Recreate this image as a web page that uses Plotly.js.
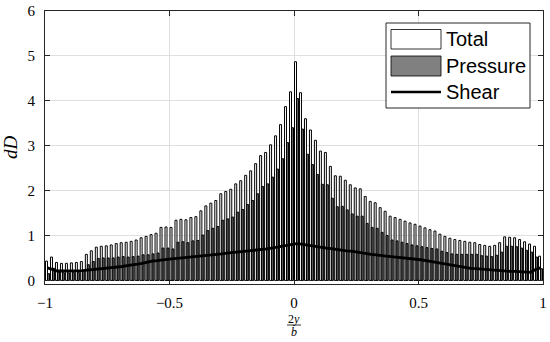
<!DOCTYPE html>
<html>
<head>
<meta charset="utf-8">
<script src="https://cdn.plot.ly/plotly-3.0.1.min.js"></script>
<style>html,body{margin:0;padding:0;background:#fff;}#chart{width:550px;height:342px;}</style>
</head>
<body>
<div id="chart"></div>
<script>
// spanwise station (2y/b)
const spanPos = [-0.99,-0.97,-0.95,-0.93,-0.91,-0.89,-0.87,-0.85,-0.83,-0.81,
-0.79,-0.77,-0.75,-0.73,-0.71,-0.69,-0.67,-0.65,-0.63,-0.61,
-0.59,-0.57,-0.55,-0.53,-0.51,-0.49,-0.47,-0.45,-0.43,-0.41,
-0.39,-0.37,-0.35,-0.33,-0.31,-0.29,-0.27,-0.25,-0.23,-0.21,
-0.19,-0.17,-0.15,-0.13,-0.11,-0.09,-0.07,-0.05,-0.03,-0.01,
0.01,0.03,0.05,0.07,0.09,0.11,0.13,0.15,0.17,0.19,
0.21,0.23,0.25,0.27,0.29,0.31,0.33,0.35,0.37,0.39,
0.41,0.43,0.45,0.47,0.49,0.51,0.53,0.55,0.57,0.59,
0.61,0.63,0.65,0.67,0.69,0.71,0.73,0.75,0.77,0.79,
0.81,0.83,0.85,0.87,0.89,0.91,0.93,0.95,0.97,0.99];

const totalDrag = [0.43,0.52,0.40,0.38,0.38,0.39,0.40,0.42,0.58,0.66,
0.74,0.76,0.77,0.79,0.82,0.84,0.85,0.87,0.90,0.95,
0.98,1.02,1.05,1.18,1.19,1.18,1.34,1.36,1.35,1.40,
1.42,1.55,1.66,1.72,1.78,1.93,1.98,2.03,2.15,2.22,
2.34,2.44,2.60,2.78,2.85,3.02,3.22,3.47,3.87,4.20,
4.87,4.18,3.60,3.35,3.12,2.88,2.85,2.54,2.33,2.32,
2.23,2.13,2.06,2.04,1.87,1.76,1.73,1.62,1.54,1.43,
1.40,1.36,1.32,1.28,1.25,1.21,1.17,1.13,1.10,1.03,
0.98,0.94,0.91,0.89,0.87,0.85,0.84,0.80,0.78,0.76,
0.78,0.84,0.97,0.96,0.95,0.91,0.86,0.81,0.76,0.54];

const pressureDrag = [0.15,0.27,0.19,0.17,0.17,0.18,0.18,0.20,0.35,0.42,
0.49,0.50,0.50,0.50,0.52,0.53,0.52,0.53,0.54,0.57,
0.57,0.59,0.61,0.72,0.72,0.70,0.85,0.86,0.84,0.88,
0.89,1.01,1.11,1.16,1.20,1.34,1.37,1.41,1.52,1.58,
1.69,1.78,1.93,2.09,2.15,2.30,2.48,2.71,3.07,3.40,
4.05,3.37,2.81,2.58,2.36,2.14,2.13,1.83,1.64,1.65,
1.57,1.48,1.43,1.43,1.27,1.18,1.16,1.07,1.00,0.90,
0.88,0.85,0.82,0.79,0.77,0.75,0.73,0.71,0.70,0.65,
0.62,0.59,0.58,0.58,0.58,0.58,0.58,0.55,0.54,0.53,
0.56,0.63,0.76,0.76,0.75,0.72,0.67,0.63,0.52,0.26];

const shearDrag = [0.28,0.25,0.21,0.21,0.21,0.21,0.22,0.22,0.23,0.24,
0.25,0.26,0.27,0.29,0.30,0.31,0.33,0.34,0.36,0.38,
0.41,0.43,0.44,0.46,0.47,0.48,0.49,0.50,0.51,0.52,
0.53,0.54,0.55,0.56,0.58,0.59,0.61,0.62,0.63,0.64,
0.65,0.66,0.67,0.69,0.70,0.72,0.74,0.76,0.78,0.80,
0.82,0.81,0.79,0.77,0.76,0.74,0.72,0.71,0.69,0.67,
0.66,0.65,0.63,0.61,0.60,0.58,0.57,0.55,0.54,0.53,
0.52,0.51,0.50,0.49,0.48,0.46,0.44,0.42,0.40,0.38,
0.36,0.35,0.33,0.31,0.29,0.27,0.26,0.25,0.24,0.23,
0.22,0.21,0.21,0.20,0.20,0.19,0.19,0.18,0.24,0.28];

const xTicks = [-1,-0.5,0,0.5,1];
const xTickText = ['\u22121','\u22120.5','0','0.5','1'];
const yTicks = [0,1,2,3,4,5,6];

const axisCol = '#262626';
const gridCol = '#dfdfdf';
const serif = '"Liberation Serif", "DejaVu Serif", serif';
const sans = '"Liberation Sans", Arial, sans-serif';

const traces = [
  {type:'bar', name:'Total', x:spanPos, y:totalDrag,
   marker:{color:'#ffffff', line:{color:'#000000', width:1}}, showlegend:false},
  {type:'bar', name:'Pressure', x:spanPos, y:pressureDrag,
   marker:{color:'#606060', line:{color:'#000000', width:1}}, showlegend:false},
  {type:'scatter', mode:'lines', name:'Shear', x:spanPos, y:shearDrag,
   line:{color:'#000000', width:2.8}, showlegend:false}
];

// plot area in px: x 45..543, y 11..284
const L=45, R=543, T=11, B=284;
const px = v => (v-L)/(R-L);
const py = v => (B-v)/(B-T);

const layout = {
  width:550, height:342,
  margin:{l:L, r:550-R, t:T, b:342-B},
  paper_bgcolor:'#ffffff', plot_bgcolor:'#ffffff',
  barmode:'group', bargap:0.2, bargroupgap:0,
  showlegend:false,
  xaxis:{range:[-1,1], tickvals:xTicks, ticktext:xTickText,
    showgrid:true, gridcolor:gridCol, gridwidth:1, zeroline:false,
    showline:true, linecolor:axisCol, linewidth:1, mirror:'ticks',
    ticks:'inside', ticklen:5, tickcolor:axisCol, ticklabelstandoff:5,
    tickfont:{family:serif, size:15, color:'#000'}},
  yaxis:{range:[-0.08,6], tickvals:yTicks,
    showgrid:true, gridcolor:gridCol, gridwidth:1, zeroline:false,
    showline:true, linecolor:axisCol, linewidth:1, mirror:'ticks',
    ticks:'inside', ticklen:5, tickcolor:axisCol, ticklabelstandoff:6,
    tickfont:{family:serif, size:15, color:'#000'},
    title:{text:'<i>dD</i>', font:{family:serif, size:19, color:'#000'}, standoff:12}},
  shapes:[
    // fraction bar of x label
    {type:'line', xref:'paper', yref:'paper', x0:px(287), x1:px(301), y0:py(325), y1:py(325), line:{color:'#000', width:0.8}},
    // legend box
    {type:'rect', xref:'paper', yref:'paper', x0:px(386), x1:px(530), y0:py(23), y1:py(108), line:{color:axisCol, width:1}, fillcolor:'#ffffff', layer:'above'},
    {type:'rect', xref:'paper', yref:'paper', x0:px(391), x1:px(441), y0:py(29.5), y1:py(49), line:{color:'#000', width:0.8}, fillcolor:'#ffffff', layer:'above'},
    {type:'rect', xref:'paper', yref:'paper', x0:px(391), x1:px(441), y0:py(56), y1:py(76), line:{color:'#000', width:0.8}, fillcolor:'#808080', layer:'above'},
    {type:'line', xref:'paper', yref:'paper', x0:px(391), x1:px(441), y0:py(92), y1:py(92), line:{color:'#000', width:2.6}, layer:'above'}
  ],
  annotations:[
    {xref:'paper', yref:'paper', x:px(294), y:py(319), text:'2<i>y</i>', showarrow:false, xanchor:'center', yanchor:'middle', font:{family:serif, size:12, color:'#000'}},
    {xref:'paper', yref:'paper', x:px(294), y:py(332), text:'<i>b</i>', showarrow:false, xanchor:'center', yanchor:'middle', font:{family:serif, size:12, color:'#000'}},
    {xref:'paper', yref:'paper', x:px(444), y:py(39.5), text:'Total', showarrow:false, xanchor:'left', yanchor:'middle', font:{family:sans, size:20, color:'#000'}},
    {xref:'paper', yref:'paper', x:px(444), y:py(66), text:'Pressure', showarrow:false, xanchor:'left', yanchor:'middle', font:{family:sans, size:20, color:'#000'}},
    {xref:'paper', yref:'paper', x:px(444), y:py(92), text:'Shear', showarrow:false, xanchor:'left', yanchor:'middle', font:{family:sans, size:20, color:'#000'}}
  ]
};

Plotly.newPlot('chart', traces, layout, {displayModeBar:false, staticPlot:true});
</script>
</body>
</html>
